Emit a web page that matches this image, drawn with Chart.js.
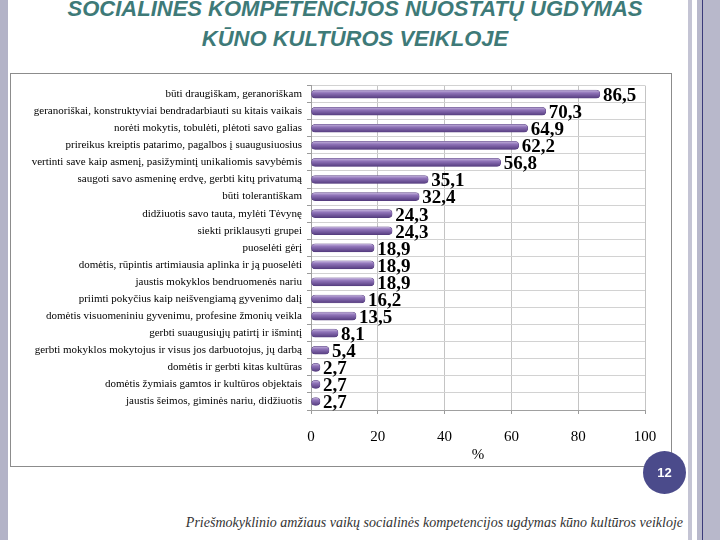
<!DOCTYPE html>
<html>
<head>
<meta charset="utf-8">
<script src="https://cdn.jsdelivr.net/npm/chart.js@4.4.1/dist/chart.umd.min.js"></script>
<style>
  body { margin: 0; width: 720px; height: 540px; position: relative; overflow: hidden; background: #fff; }
  .strip { position: absolute; top: 0; height: 540px; }
  .title { position: absolute; left: 0; width: 710px; text-align: center; font: italic bold 22px 'Liberation Sans', Arial, sans-serif; line-height: 22px; color: #3e7a78; white-space: nowrap; }
  #badge { position: absolute; left: 643px; top: 451px; width: 43px; height: 43px; border-radius: 50%; background: #4b4b8b; z-index: 3; }
  #badgeText { position: absolute; left: 643px; top: 465px; width: 43px; text-align: center; color: #fff; font: bold 13px 'Liberation Sans', Arial, sans-serif; z-index: 4; }
  #box { position: absolute; left: 10px; top: 73px; width: 660px; height: 392px; border: 1px solid #8c8c8c; background: #fff; z-index: 2; }
  #footer { position: absolute; right: 37px; top: 515px; font: italic 14px 'Liberation Serif', 'Times New Roman', serif; color: #333; white-space: nowrap; }
</style>
</head>
<body>
<div class="strip" style="left:0;width:8px;background:#b3b3c7"></div>
<div class="strip" style="left:688px;width:4px;background:#c4c4d4"></div>
<div class="strip" style="left:697px;width:5px;background:#b8b8cb"></div>
<div class="strip" style="left:702px;width:1px;background:#3a3a7a"></div>
<div class="strip" style="left:703px;width:17px;background:#b8b8cb"></div>

<div class="title" style="top:-2px">SOCIALINĖS KOMPETENCIJOS NUOSTATŲ UGDYMAS</div>
<div class="title" style="top:28px">KŪNO KULTŪROS VEIKLOJE</div>

<div id="badge"></div>
<div id="badgeText">12</div>

<div id="box"><canvas id="chart" width="660" height="392"></canvas></div>

<div id="footer">Priešmokyklinio amžiaus vaikų socialinės kompetencijos ugdymas kūno kultūros veikloje</div>

<script>
const categories = [
    'būti draugiškam, geranoriškam',
    'geranoriškai, konstruktyviai bendradarbiauti su kitais vaikais',
    'norėti mokytis, tobulėti, plėtoti savo galias',
    'prireikus kreiptis patarimo, pagalbos į suaugusiuosius',
    'vertinti save kaip asmenį, pasižymintį unikaliomis savybėmis',
    'saugoti savo asmeninę erdvę, gerbti kitų privatumą',
    'būti tolerantiškam',
    'didžiuotis savo tauta, mylėti Tėvynę',
    'siekti priklausyti grupei',
    'puoselėti gėrį',
    'domėtis, rūpintis artimiausia aplinka ir ją puoselėti',
    'jaustis mokyklos bendruomenės nariu',
    'priimti pokyčius kaip neišvengiamą gyvenimo dalį',
    'domėtis visuomeniniu gyvenimu, profesine žmonių veikla',
    'gerbti suaugusiųjų patirtį ir išmintį',
    'gerbti mokyklos mokytojus ir visus jos darbuotojus, jų darbą',
    'domėtis ir gerbti kitas kultūras',
    'domėtis žymiais gamtos ir kultūros objektais',
    'jaustis šeimos, giminės nariu, didžiuotis'
];
const values = [86.5, 70.3, 64.9, 62.2, 56.8, 35.1, 32.4, 24.3, 24.3, 18.9, 18.9, 18.9, 16.2, 13.5, 8.1, 5.4, 2.7, 2.7, 2.7];
const xTicks = [0, 20, 40, 60, 80, 100];
const xTitle = '%';

const serif = "'Liberation Serif', 'Times New Roman', serif";

/* value labels next to the bars */
const valueLabels = {
    id: 'valueLabels',
    afterDatasetsDraw(chart) {
        const ctx = chart.ctx;
        const meta = chart.getDatasetMeta(0);
        ctx.save();
        ctx.font = 'bold 19px ' + serif;
        ctx.fillStyle = '#000';
        ctx.textBaseline = 'middle';
        meta.data.forEach((bar, i) => {
            ctx.fillText(values[i].toFixed(1).replace('.', ','), bar.x + 3, bar.y + 2);
        });
        ctx.restore();
    }
};

/* cylinder-ish shading for each bar */
function barFill(context) {
    const chart = context.chart;
    const y = chart.scales.y;
    if (!y || context.dataIndex === undefined) return '#8064a2';
    const cy = y.getPixelForValue(context.dataIndex);
    if (!isFinite(cy)) return '#8064a2';
    const g = chart.ctx.createLinearGradient(0, cy - 4, 0, cy + 4);
    g.addColorStop(0, '#c6b6de');
    g.addColorStop(0.35, '#8f73b8');
    g.addColorStop(1, '#563d80');
    return g;
}

new Chart(document.getElementById('chart'), {
    type: 'bar',
    plugins: [valueLabels],
    data: {
        labels: categories,
        datasets: [{
            data: values,
            backgroundColor: barFill,
            borderColor: '#553d7e',
            borderWidth: 0.5,
            borderRadius: 4,
            borderSkipped: false,
            barThickness: 8
        }]
    },
    options: {
        indexAxis: 'y',
        responsive: false,
        devicePixelRatio: 1,
        animation: false,
        layout: { padding: { left: 0, right: 26, top: 6, bottom: 0 } },
        plugins: { legend: { display: false }, tooltip: { enabled: false } },
        scales: {
            x: {
                min: 0,
                max: 100,
                afterBuildTicks: axis => { axis.ticks = xTicks.map(v => ({ value: v })); },
                afterFit: axis => { axis.height = 56; },
                grid: { color: '#c4c4c4', tickLength: 4, tickColor: '#9a9a9a' },
                border: { color: '#a0a0a0' },
                ticks: { color: '#000', font: { family: serif, size: 15 }, padding: 14, maxRotation: 0 },
                title: { display: true, text: xTitle, color: '#000', font: { family: serif, size: 15 }, padding: { top: 0, bottom: 2 } }
            },
            y: {
                afterFit: axis => { axis.width = 300; },
                grid: { color: '#d2d2d2', tickLength: 4, tickColor: '#9a9a9a', offset: true },
                border: { color: '#a0a0a0' },
                ticks: { color: '#000', font: { family: serif, size: 11 }, padding: 5, autoSkip: false }
            }
        }
    }
});
</script>
</body>
</html>
